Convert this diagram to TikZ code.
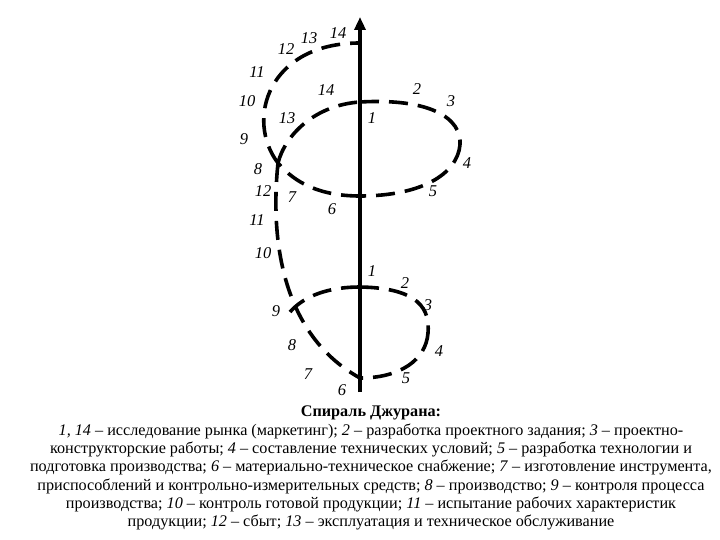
\documentclass[tikz,border=0pt]{standalone}
\usepackage{fontspec}
\setmainfont{Liberation Serif}
\usetikzlibrary{arrows.meta}
\begin{document}
\begin{tikzpicture}[x=1pt,y=-1pt,
  lab/.style={font=\fontsize{16.5}{16.5}\selectfont\itshape, inner sep=0pt},
  spiral/.style={line width=3.6pt, dash pattern=on 19pt off 10pt},
  axis/.style={line width=3.8pt, -{Triangle[length=13pt,width=11pt]}}]
\useasboundingbox (0,0) rectangle (720,540);
% key points
\coordinate (bot) at (360,392);
\coordinate (top) at (360,17);
\coordinate (aTop) at (360,43);
\coordinate (aA) at (360,102);
\coordinate (aB) at (360,196);
\coordinate (aC) at (360,287);
\coordinate (aD) at (360,378);
\coordinate (p8) at (278,163);
\coordinate (p4) at (460,145);
\coordinate (q4) at (428,333);
\coordinate (q9) at (290,312);
% axis
\draw[axis] (bot) -- (top);
% upper loop
\draw[spiral] (aA) .. controls (430,98) and (462,118) .. (p4);
\draw[spiral] (p4) .. controls (457,175) and (420,196) .. (aB);
\draw[spiral] (aB) .. controls (320,196) and (295,183) .. (p8);
\draw[spiral] (p8) .. controls (285,135) and (315,105) .. (aA);
\draw[spiral] (p8) .. controls (245,120) and (268,43) .. (aTop);
% stem down
\draw[spiral] (p8) .. controls (270,240) and (282,335) .. (aD);
% lower loop
\draw[spiral] (aC) .. controls (420,288) and (430,310) .. (q4);
\draw[spiral] (q4) .. controls (426,360) and (400,378) .. (aD);
\draw[spiral] (aC) .. controls (330,287) and (305,295) .. (q9);
% labels upper
\node[lab] (t12) at (286,49) {12};
\node[lab] (t13) at (309,38) {13};
\node[lab] (t14) at (338,33) {14};
\node[lab] (u11) at (257,72) {11};
\node[lab] (u10) at (247,101) {10};
\node[lab] (u14) at (326,90) {14};
\node[lab] (u2) at (417,89) {2};
\node[lab] (u3) at (451,101) {3};
\node[lab] (u13) at (287,118) {13};
\node[lab] (u1) at (372,118) {1};
\node[lab] (u9) at (244,139) {9};
\node[lab] (u4) at (467,163) {4};
\node[lab] (u8) at (258,169) {8};
\node[lab] (u12) at (263,191) {12};
\node[lab] (u7) at (292,197) {7};
\node[lab] (u5) at (433,191) {5};
\node[lab] (u6) at (332,209) {6};
\node[lab] (m11) at (257,220) {11};
\node[lab] (m10) at (263,253) {10};
% labels lower
\node[lab] (l1) at (372,271) {1};
\node[lab] (l2) at (405,283) {2};
\node[lab] (l3) at (428,305) {3};
\node[lab] (l9) at (276,311) {9};
\node[lab] (l8) at (292,345) {8};
\node[lab] (l4) at (439,351) {4};
\node[lab] (l7) at (308,374) {7};
\node[lab] (l5) at (406,378) {5};
\node[lab] (l6) at (342,390) {6};
% caption
\node[anchor=north, align=center, inner sep=0pt, font=\fontsize{16.2}{18.3}\selectfont] (cap) at (371,406)
{\textbf{Спираль Джурана:}\\
\textit{1, 14} – исследование рынка (маркетинг); \textit{2} – разработка проектного задания; \textit{3} – проектно-\\
конструкторские работы; \textit{4} – составление технических условий; \textit{5} – разработка технологии и\\
подготовка производства; \textit{6} – материально-техническое снабжение; \textit{7} – изготовление инструмента,\\
приспособлений и контрольно-измерительных средств; \textit{8} – производство; \textit{9} – контроля процесса\\
производства; \textit{10} – контроль готовой продукции; \textit{11} – испытание рабочих характеристик\\
продукции; \textit{12} – сбыт; \textit{13} – эксплуатация и техническое обслуживание};
\end{tikzpicture}
\end{document}
